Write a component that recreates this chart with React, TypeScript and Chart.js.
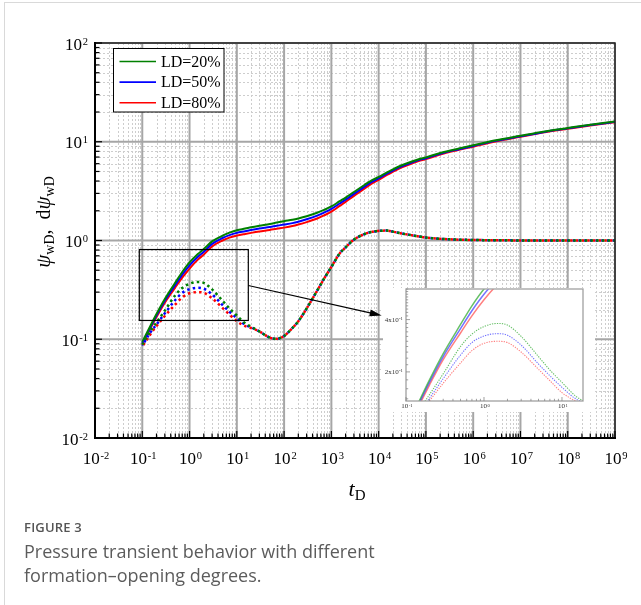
import React, { useEffect, useRef } from 'react';
import { Chart, registerables } from 'chart.js';

Chart.register(...registerables);

// ---------------- data ----------------
const timeD = [
  0.1, 0.15, 0.2, 0.3, 0.5, 0.7,
  1, 1.5, 2, 3, 5, 7,
  10, 15, 20, 30, 50, 70,
  100, 150, 200, 300, 500, 700,
  1e3, 1.5e3, 2e3, 3e3, 5e3, 7e3,
  1e4, 1.5e4, 2e4, 3e4, 5e4, 7e4,
  1e5, 2e5, 5e5,
  1e6, 3e6,
  1e7, 3e7,
  1e8, 3e8,
  1e9,
];

const psiLD20 = [
  0.094, 0.138, 0.18, 0.255, 0.375, 0.48,
  0.6, 0.73, 0.82, 0.98, 1.12, 1.2,
  1.27, 1.32, 1.36, 1.41, 1.47, 1.52,
  1.57, 1.62, 1.67, 1.76, 1.91, 2.04,
  2.21, 2.5, 2.72, 3.1, 3.65, 4.05,
  4.4, 4.9, 5.25, 5.75, 6.3, 6.65,
  6.95, 7.7, 8.55,
  9.2, 10.35,
  11.5, 12.65,
  13.8, 14.9,
  16.05,
];
const psiLD50 = [
  0.091, 0.134, 0.174, 0.245, 0.355, 0.45,
  0.56, 0.685, 0.77, 0.925, 1.06, 1.135,
  1.195, 1.24, 1.275, 1.32, 1.37, 1.41,
  1.45, 1.5, 1.55, 1.64, 1.785, 1.915,
  2.085, 2.37, 2.59, 2.965, 3.5, 3.9,
  4.25, 4.76, 5.11, 5.61, 6.16, 6.51,
  6.81, 7.56, 8.41,
  9.06, 10.21,
  11.36, 12.51,
  13.66, 14.76,
  15.91,
];
const psiLD80 = [
  0.088, 0.13, 0.168, 0.235, 0.335, 0.42,
  0.52, 0.64, 0.72, 0.87, 1.0, 1.07,
  1.12, 1.165, 1.195, 1.235, 1.28, 1.315,
  1.35, 1.4, 1.45, 1.535, 1.67, 1.795,
  1.96, 2.24, 2.46, 2.83, 3.35, 3.75,
  4.1, 4.62, 4.97, 5.47, 6.02, 6.37,
  6.67, 7.42, 8.27,
  8.92, 10.07,
  11.22, 12.37,
  13.52, 14.62,
  15.77,
];

const dpsiLD20 = [
  0.088, 0.122, 0.148, 0.195, 0.28, 0.33,
  0.365, 0.38, 0.372, 0.32, 0.245, 0.205,
  0.174, 0.145, 0.134, 0.12, 0.104, 0.101,
  0.108, 0.13, 0.152, 0.205, 0.31, 0.41,
  0.54, 0.74, 0.85, 1.02, 1.16, 1.22,
  1.25, 1.26, 1.23, 1.18, 1.13, 1.1,
  1.07, 1.04, 1.02,
  1.012, 1.005,
  1.002, 1.0,
  1.0, 1.0,
  1.0,
];
const dpsiLD50 = [
  0.086, 0.118, 0.141, 0.183, 0.25, 0.295,
  0.322, 0.332, 0.325, 0.285, 0.222, 0.19,
  0.163, 0.14, 0.132, 0.12, 0.104, 0.101,
  0.108, 0.13, 0.152, 0.205, 0.31, 0.41,
  0.54, 0.74, 0.85, 1.02, 1.16, 1.22,
  1.25, 1.26, 1.23, 1.18, 1.13, 1.1,
  1.07, 1.04, 1.02,
  1.012, 1.005,
  1.002, 1.0,
  1.0, 1.0,
  1.0,
];
const dpsiLD80 = [
  0.084, 0.113, 0.136, 0.172, 0.225, 0.265,
  0.292, 0.3, 0.295, 0.26, 0.207, 0.178,
  0.152, 0.136, 0.13, 0.12, 0.104, 0.101,
  0.108, 0.13, 0.152, 0.205, 0.31, 0.41,
  0.54, 0.74, 0.85, 1.02, 1.16, 1.22,
  1.25, 1.26, 1.23, 1.18, 1.13, 1.1,
  1.07, 1.04, 1.02,
  1.012, 1.005,
  1.002, 1.0,
  1.0, 1.0,
  1.0,
];

const seriesLabels = ['LD=20%', 'LD=50%', 'LD=80%'];
const seriesColors = ['#008000', '#0000ff', '#ff0000'];
const insetColors = ['rgba(0,150,0,0.6)', 'rgba(0,0,255,0.55)', 'rgba(255,0,0,0.5)'];
const pressureSeries = [psiLD20, psiLD50, psiLD80];
const derivativeSeries = [dpsiLD20, dpsiLD50, dpsiLD80];

const xTickExponents = [-2, -1, 0, 1, 2, 3, 4, 5, 6, 7, 8, 9];
const yTickExponents = [-2, -1, 0, 1, 2];
const insetXTickExponents = [-1, 0, 1];
const insetYTickValues = [0.2, 0.4];
const insetYTickMantissas = ['2', '4'];

const zoomBox = { tMin: 0.0865, tMax: 17.5, yMin: 0.155, yMax: 0.81 };
const arrowFrom = { t: 17.5, v: 0.35 };
const arrowTo = { t: 1.16e4, v: 0.174 };
const insetRange = { tMin: 0.1, tMax: 18.6, yMin: 0.136, yMax: 0.6 };

// ---------------- helpers ----------------
const SERIF = '"Liberation Serif", "Times New Roman", Times, serif';

const isDecade = (v: number) => Math.abs(Math.log10(v) - Math.round(Math.log10(v))) < 1e-9;

function logGridValues(minExp: number, maxExp: number): number[] {
  const out: number[] = [];
  for (let e = minExp; e < maxExp; e++) {
    for (let k = 1; k <= 9; k++) out.push(k * Math.pow(10, e));
  }
  out.push(Math.pow(10, maxExp));
  return out;
}

function drawPower(
  ctx: CanvasRenderingContext2D,
  mantissa: string,
  exp: number,
  x: number,
  y: number,
  align: 'center' | 'right',
  baseSize: number,
  expSize: number,
) {
  const expStr = exp < 0 ? '-' + Math.abs(exp) : String(exp);
  ctx.font = `${baseSize}px ${SERIF}`;
  const wb = ctx.measureText(mantissa).width;
  ctx.font = `${expSize}px ${SERIF}`;
  const we = ctx.measureText(expStr).width;
  const gap = baseSize * 0.05;
  const total = wb + we + gap;
  const start = align === 'center' ? x - total / 2 : x - total;
  const baseline = y + baseSize * 0.33;
  ctx.textAlign = 'left';
  ctx.textBaseline = 'alphabetic';
  ctx.font = `${baseSize}px ${SERIF}`;
  ctx.fillText(mantissa, start, baseline);
  ctx.font = `${expSize}px ${SERIF}`;
  ctx.fillText(expStr, start + wb + gap, baseline - (baseSize * 0.66 - expSize * 0.66) - baseSize * 0.04);
}

function drawRuns(
  ctx: CanvasRenderingContext2D,
  runs: { text: string; font: string; dy: number }[],
  x: number,
  y: number,
) {
  let total = 0;
  const widths = runs.map((r) => {
    ctx.font = r.font;
    const w = ctx.measureText(r.text).width;
    total += w;
    return w;
  });
  let cx = x - total / 2;
  ctx.textAlign = 'left';
  ctx.textBaseline = 'alphabetic';
  runs.forEach((r, i) => {
    ctx.font = r.font;
    ctx.fillText(r.text, cx, y + r.dy);
    cx += widths[i];
  });
}

// ---------------- main chart plugin ----------------
const mainDecor = {
  id: 'mainDecor',
  beforeDatasetsDraw(chart: any) {
    const { ctx, chartArea, scales } = chart;
    const { left, right, top, bottom } = chartArea;
    const xs = scales.x;
    const ys = scales.y;
    ctx.save();
    const xg = logGridValues(-2, 9);
    const yg = logGridValues(-2, 2);
    ctx.lineWidth = 1;
    ctx.strokeStyle = '#cdcdcd';
    ctx.setLineDash([2, 2]);
    xg.forEach((v) => {
      if (isDecade(v)) return;
      const px = Math.round(xs.getPixelForValue(v)) + 0.5;
      ctx.beginPath();
      ctx.moveTo(px, top);
      ctx.lineTo(px, bottom);
      ctx.stroke();
    });
    yg.forEach((v) => {
      if (isDecade(v)) return;
      const py = Math.round(ys.getPixelForValue(v)) + 0.5;
      ctx.beginPath();
      ctx.moveTo(left, py);
      ctx.lineTo(right, py);
      ctx.stroke();
    });
    ctx.setLineDash([]);
    ctx.lineWidth = 2;
    ctx.strokeStyle = '#a6a6a6';
    xg.forEach((v) => {
      if (!isDecade(v)) return;
      const px = xs.getPixelForValue(v);
      ctx.beginPath();
      ctx.moveTo(px, top);
      ctx.lineTo(px, bottom);
      ctx.stroke();
    });
    yg.forEach((v) => {
      if (!isDecade(v)) return;
      const py = ys.getPixelForValue(v);
      ctx.beginPath();
      ctx.moveTo(left, py);
      ctx.lineTo(right, py);
      ctx.stroke();
    });
    ctx.restore();
  },
  afterDatasetsDraw(chart: any) {
    const { ctx, chartArea, scales } = chart;
    const { left, right, top, bottom } = chartArea;
    const xs = scales.x;
    const ys = scales.y;
    ctx.save();

    // frame
    ctx.strokeStyle = '#222';
    ctx.lineWidth = 1.5;
    ctx.beginPath();
    ctx.moveTo(left, top);
    ctx.lineTo(right, top);
    ctx.lineTo(right, bottom);
    ctx.stroke();
    ctx.strokeStyle = '#000';
    ctx.lineWidth = 2;
    ctx.beginPath();
    ctx.moveTo(left, top - 1);
    ctx.lineTo(left, bottom);
    ctx.lineTo(right + 1, bottom);
    ctx.stroke();

    // inward ticks
    ctx.lineWidth = 1.2;
    logGridValues(-2, 9).forEach((v) => {
      const px = xs.getPixelForValue(v);
      const len = isDecade(v) ? 7 : 4.5;
      ctx.beginPath();
      ctx.moveTo(px, bottom);
      ctx.lineTo(px, bottom - len);
      ctx.stroke();
    });
    logGridValues(-2, 2).forEach((v) => {
      const py = ys.getPixelForValue(v);
      const len = isDecade(v) ? 7 : 4.5;
      ctx.beginPath();
      ctx.moveTo(left, py);
      ctx.lineTo(left + len, py);
      ctx.stroke();
    });

    // tick labels
    ctx.fillStyle = '#000';
    xTickExponents.forEach((e) => {
      const px = xs.getPixelForValue(Math.pow(10, e));
      drawPower(ctx, '10', e, px + 1, bottom + 20, 'center', 17, 10.5);
    });
    yTickExponents.forEach((e) => {
      const py = ys.getPixelForValue(Math.pow(10, e));
      drawPower(ctx, '10', e, left - 7, py + 1, 'right', 17, 10.5);
    });

    // x title  t_D
    drawRuns(
      ctx,
      [
        { text: 't', font: `italic 22px ${SERIF}`, dy: 0 },
        { text: 'D', font: `15px ${SERIF}`, dy: 4 },
      ],
      (left + right) / 2 + 2,
      bottom + 58,
    );

    // y title
    ctx.save();
    ctx.translate(50, 222);
    ctx.rotate(-Math.PI / 2);
    drawRuns(
      ctx,
      [
        { text: 'ψ', font: `italic 21px ${SERIF}`, dy: 0 },
        { text: 'wD', font: `14px ${SERIF}`, dy: 4 },
        { text: ',  ', font: `20px ${SERIF}`, dy: 0 },
        { text: 'd', font: `20px ${SERIF}`, dy: 0 },
        { text: 'ψ', font: `italic 21px ${SERIF}`, dy: 0 },
        { text: 'wD', font: `14px ${SERIF}`, dy: 4 },
      ],
      0,
      0,
    );
    ctx.restore();

    // zoom box
    const bx1 = xs.getPixelForValue(zoomBox.tMin);
    const bx2 = xs.getPixelForValue(zoomBox.tMax);
    const by1 = ys.getPixelForValue(zoomBox.yMax);
    const by2 = ys.getPixelForValue(zoomBox.yMin);
    ctx.strokeStyle = '#000';
    ctx.lineWidth = 1.2;
    ctx.strokeRect(bx1, by1, bx2 - bx1, by2 - by1);

    // arrow
    const ax1 = xs.getPixelForValue(arrowFrom.t);
    const ay1 = ys.getPixelForValue(arrowFrom.v);
    const ax2 = xs.getPixelForValue(arrowTo.t);
    const ay2 = ys.getPixelForValue(arrowTo.v);
    const ang = Math.atan2(ay2 - ay1, ax2 - ax1);
    const L = 12;
    const W = 3.5;
    ctx.beginPath();
    ctx.moveTo(ax1, ay1);
    ctx.lineTo(ax2 - Math.cos(ang) * L * 0.8, ay2 - Math.sin(ang) * L * 0.8);
    ctx.stroke();
    ctx.fillStyle = '#000';
    ctx.beginPath();
    ctx.moveTo(ax2, ay2);
    ctx.lineTo(ax2 - L * Math.cos(ang) + W * Math.sin(ang), ay2 - L * Math.sin(ang) - W * Math.cos(ang));
    ctx.lineTo(ax2 - L * Math.cos(ang) - W * Math.sin(ang), ay2 - L * Math.sin(ang) + W * Math.cos(ang));
    ctx.closePath();
    ctx.fill();

    // legend
    const lx = left + 18.5;
    const ly = top + 5.5;
    const lw = 110.5;
    const lh = 63.5;
    ctx.fillStyle = '#fff';
    ctx.fillRect(lx, ly, lw, lh);
    ctx.strokeStyle = '#000';
    ctx.lineWidth = 1;
    ctx.strokeRect(lx, ly, lw, lh);
    seriesLabels.forEach((lab, i) => {
      const ry = ly + 13 + i * 20.6;
      ctx.strokeStyle = seriesColors[i];
      ctx.lineWidth = 1.6;
      ctx.beginPath();
      ctx.moveTo(lx + 6, ry);
      ctx.lineTo(lx + 42.5, ry);
      ctx.stroke();
      ctx.fillStyle = '#000';
      ctx.font = `16px ${SERIF}`;
      ctx.textAlign = 'left';
      ctx.textBaseline = 'middle';
      ctx.fillText(lab, lx + 47.5, ry + 1);
    });

    ctx.restore();
  },
};

// ---------------- inset chart plugin ----------------
const insetDecor = {
  id: 'insetDecor',
  beforeDraw(chart: any) {
    const { ctx, width, height } = chart;
    ctx.save();
    ctx.fillStyle = '#fff';
    ctx.fillRect(0, 0, width, height);
    ctx.restore();
  },
  afterDatasetsDraw(chart: any) {
    const { ctx, chartArea, scales } = chart;
    const { left, right, top, bottom } = chartArea;
    const xs = scales.x;
    const ys = scales.y;
    ctx.save();
    ctx.strokeStyle = '#a0a0a0';
    ctx.lineWidth = 1.3;
    ctx.strokeRect(left, top, right - left, bottom - top);

    ctx.strokeStyle = '#888';
    ctx.lineWidth = 0.8;
    logGridValues(-1, 2).forEach((v) => {
      if (v < insetRange.tMin || v > insetRange.tMax) return;
      const px = xs.getPixelForValue(v);
      const len = isDecade(v) ? 4 : 2.2;
      ctx.beginPath();
      ctx.moveTo(px, bottom);
      ctx.lineTo(px, bottom - len);
      ctx.stroke();
    });
    for (let k = 7; k <= 30; k++) {
      const v = k * 0.02;
      if (v < insetRange.yMin || v > insetRange.yMax) continue;
      const py = ys.getPixelForValue(v);
      const len = k === 10 || k === 20 ? 4 : 2.2;
      ctx.beginPath();
      ctx.moveTo(left, py);
      ctx.lineTo(left + len, py);
      ctx.stroke();
    }

    ctx.fillStyle = '#333';
    insetXTickExponents.forEach((e) => {
      const px = xs.getPixelForValue(Math.pow(10, e));
      drawPower(ctx, '10', e, px + 1, bottom + 5, 'center', 7, 4.8);
    });
    insetYTickValues.forEach((v, i) => {
      const py = ys.getPixelForValue(v);
      drawPower(ctx, insetYTickMantissas[i] + 'x10', -1, left - 3, py, 'right', 7, 4.8);
    });
    ctx.restore();
  },
};

function makeDatasets(colors: string[], solidWidth: number, dotWidth: number, dash: number[]) {
  const ds: any[] = [];
  derivativeSeries.forEach((arr, i) => {
    ds.push({
      label: seriesLabels[i] + ' derivative',
      data: timeD.map((t, j) => ({ x: t, y: arr[j] })),
      borderColor: colors[i],
      borderWidth: dotWidth,
      borderDash: dash,
      borderDashOffset: (i * (dash[0] + dash[1])) / 3,
      pointRadius: 0,
      fill: false,
      cubicInterpolationMode: 'monotone',
    });
  });
  pressureSeries.forEach((arr, i) => {
    ds.push({
      label: seriesLabels[i],
      data: timeD.map((t, j) => ({ x: t, y: arr[j] })),
      borderColor: colors[i],
      borderWidth: solidWidth,
      pointRadius: 0,
      fill: false,
      cubicInterpolationMode: 'monotone',
    });
  });
  return ds;
}

export default function App() {
  const mainRef = useRef<HTMLCanvasElement>(null);
  const insetRef = useRef<HTMLCanvasElement>(null);

  useEffect(() => {
    const main = new Chart(mainRef.current as HTMLCanvasElement, {
      type: 'line',
      data: { datasets: makeDatasets(seriesColors, 2, 2.5, [2.5, 3.2]) },
      options: {
        responsive: false,
        animation: false,
        events: [],
        layout: { padding: { left: 95, top: 43, right: 26, bottom: 167 } },
        scales: {
          x: { type: 'logarithmic', min: 0.01, max: 1e9, display: false },
          y: { type: 'logarithmic', min: 0.01, max: 100, display: false },
        },
        plugins: { legend: { display: false }, tooltip: { enabled: false } },
      },
      plugins: [mainDecor],
    } as any);

    const inset = new Chart(insetRef.current as HTMLCanvasElement, {
      type: 'line',
      data: { datasets: makeDatasets(insetColors, 1.5, 1.1, [1.3, 1.2]) },
      options: {
        responsive: false,
        animation: false,
        events: [],
        layout: { padding: { left: 23, top: 1, right: 12, bottom: 11 } },
        scales: {
          x: { type: 'logarithmic', min: insetRange.tMin, max: insetRange.tMax, display: false },
          y: { type: 'logarithmic', min: insetRange.yMin, max: insetRange.yMax, display: false },
        },
        plugins: { legend: { display: false }, tooltip: { enabled: false } },
      },
      plugins: [insetDecor],
    } as any);

    return () => {
      main.destroy();
      inset.destroy();
    };
  }, []);

  return (
    <div
      style={{
        position: 'absolute',
        left: 0,
        top: 0,
        width: 641,
        height: 605,
        overflow: 'hidden',
        background: '#fff',
      }}
    >
      <div
        style={{
          position: 'absolute',
          left: 4,
          top: 2,
          width: 720,
          height: 720,
          border: '1px solid #d9d9d9',
          boxSizing: 'border-box',
        }}
      />
      <canvas
        ref={mainRef}
        width={641}
        height={605}
        style={{ position: 'absolute', left: 0, top: 0, width: 641, height: 605 }}
      />
      <canvas
        ref={insetRef}
        width={212}
        height={124}
        style={{ position: 'absolute', left: 383, top: 288, width: 212, height: 124 }}
      />
      <div
        style={{
          position: 'absolute',
          left: 24,
          top: 519,
          font: '600 13px "Open Sans", "Noto Sans", sans-serif',
          color: '#555',
          lineHeight: '16px',
          letterSpacing: '0.2px',
          whiteSpace: 'nowrap',
        }}
      >
        FIGURE 3
      </div>
      <div
        style={{
          position: 'absolute',
          left: 24,
          top: 539,
          font: '18px "Open Sans", "Noto Sans", sans-serif',
          color: '#5c5c5c',
          lineHeight: '24px',
          whiteSpace: 'nowrap',
        }}
      >
        Pressure transient behavior with different
        <br />
        formation–opening degrees.
      </div>
    </div>
  );
}
